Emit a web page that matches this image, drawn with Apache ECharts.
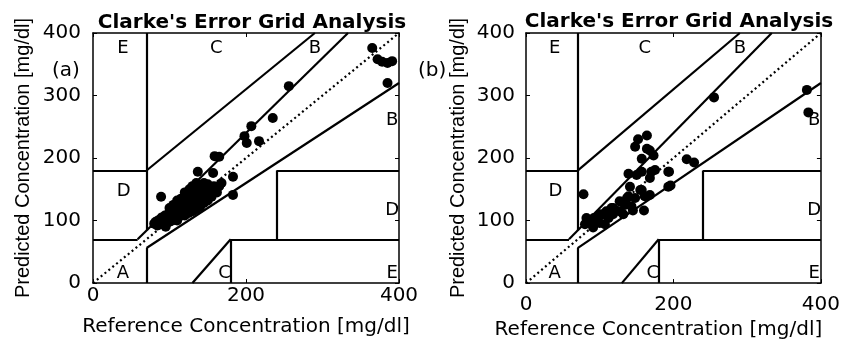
<!DOCTYPE html>
<html>
<head>
<meta charset="utf-8">
<script src="https://cdn.jsdelivr.net/npm/echarts@6/dist/echarts.min.js"></script>
<style>
html,body{margin:0;padding:0;background:#fff;}
#chart{width:843px;height:345px;}
</style>
</head>
<body>
<div id="chart"></div>
<script>
// reference vs predicted, panel (a)
var pointsA=[
    [80,95],[82,98],[84,92],[85,100],[86,96],[88,102],[88,94],[90,99],[90,105],[92,97],
    [93,103],[94,108],[95,100],[96,95],[97,106],[98,110],[99,102],[100,98],[100,112],[102,105],
    [103,115],[104,100],[105,109],[106,118],[107,104],[108,112],[109,120],[110,107],[111,116],[112,110],
    [113,124],[114,113],[115,119],[116,108],[117,127],[118,115],[119,121],[120,112],[121,130],[122,118],
    [123,125],[124,115],[125,133],[126,121],[127,128],[128,118],[129,136],[130,124],[131,131],[132,122],
    [133,140],[134,128],[135,135],[136,125],[137,143],[138,131],[139,138],[140,128],[141,147],[142,134],
    [143,141],[145,137],[146,150],[148,140],[150,145],[152,152],[154,142],[156,148],[158,155],[160,150],
    [162,145],[165,155],[95,90],[110,100],[120,108],[130,115],[140,122],[150,132],
    [100,120],[105,125],[110,132],[115,135],[120,145],[126,150],[130,155],[135,160],[140,155],[145,160],
    [125,112],[135,118],[145,128],[155,138],[118,128],[128,140],[138,148],[150,158],
    [89,138],[137,178],[157,176],[159,203],[165,202],[168,160],[183,170],[183,141],[198,235],[201,224],
    [207,251],[217,227],[235,264],[256,315],[365,376],[372,358],[378,354],[385,352],[391,355],[385,320]
];
// panel (b)
var pointsB=[
    [255,297],[381,309],[383,273],[218,198],[228,193],[194,178],[196,156],[78,142],[160,116],
    [164,236],[152,230],[148,218],[164,215],[168,212],[157,199],[173,204],[170,178],[175,181],[157,178],
    [139,175],[168,168],[150,173],[141,154],[155,149],[157,149],[161,139],[168,141],[148,136],[139,139],
    [137,136],[143,123],[134,125],[145,116],[127,131],[118,120],[116,120],[109,115],[105,110],[100,110],
    [92,104],[82,104],[82,96],[80,94],[94,99],[100,96],[91,89],[107,94],[114,110],[118,110],[127,115],
    [132,110],[193,178],[193,154],[88,100],[96,104],[112,104],[122,116]
];
// Clarke grid zone boundaries
var zoneLines=[
    [[0,70],[175/3,70]],
    [[175/3,70],[400/1.2,400]],
    [[70,84],[70,400]],
    [[0,180],[70,180]],
    [[70,180],[290,400]],
    [[70,0],[70,56]],
    [[70,56],[400,320]],
    [[180,0],[180,70]],
    [[180,70],[400,70]],
    [[240,70],[240,180]],
    [[240,180],[400,180]],
    [[130,0],[180,70]]
];
var zoneLetters=[
    ['E',39,376],['C',161,376],['B',290,376],['B',391,260],
    ['D',40,147],['D',391,116],['A',39,16],['C',172,16],['E',391,16]
];

var font='DejaVu Sans';
var vfont='Liberation Sans';
var black='#000';

var grids=[
    {left:93,top:33,width:306,height:250},
    {left:526,top:33,width:295,height:253}
];
var xAxes=[],yAxes=[],series=[];
var panels=[pointsA,pointsB];
var xNameGap=[34,31];
var xNamePad=[[0,0,0,0],[0,30,0,0]];
var yNameGap=[60,58];
var xLabelMargin=[3,12];
var yLabelMargin=[12,11];

for(var g=0;g<2;g++){
    // bottom and top
    xAxes.push({
        gridIndex:g,type:'value',min:0,max:400,interval:200,position:'bottom',
        name:'Reference Concentration [mg/dl]',nameLocation:'middle',nameGap:xNameGap[g],
        nameTextStyle:{fontFamily:font,fontSize:20,color:black,padding:xNamePad[g]},
        axisLine:{onZero:false,lineStyle:{color:black,width:1.5}},
        axisTick:{inside:true,length:4,lineStyle:{color:black}},
        axisLabel:{fontFamily:font,fontSize:20,color:black,margin:xLabelMargin[g]},
        splitLine:{show:false}
    });
    xAxes.push({
        gridIndex:g,type:'value',min:0,max:400,interval:200,position:'top',
        axisLine:{onZero:false,lineStyle:{color:black,width:1.5}},
        axisTick:{inside:true,length:4,lineStyle:{color:black}},
        axisLabel:{show:false},splitLine:{show:false}
    });
    yAxes.push({
        gridIndex:g,type:'value',min:0,max:400,interval:100,position:'left',
        name:'Predicted Concentration [mg/dl]',nameLocation:'middle',nameGap:yNameGap[g],
        nameTextStyle:{fontFamily:vfont,fontSize:20,color:black},
        axisLine:{onZero:false,lineStyle:{color:black,width:1.5}},
        axisTick:{inside:true,length:4,lineStyle:{color:black}},
        axisLabel:{fontFamily:font,fontSize:20,color:black,margin:yLabelMargin[g]},
        splitLine:{show:false}
    });
    yAxes.push({
        gridIndex:g,type:'value',min:0,max:400,interval:100,position:'right',
        axisLine:{onZero:false,lineStyle:{color:black,width:1.5}},
        axisTick:{inside:true,length:4,lineStyle:{color:black}},
        axisLabel:{show:false},splitLine:{show:false}
    });
    var xi=g*2,yi=g*2;
    series.push({
        type:'lines',coordinateSystem:'cartesian2d',xAxisIndex:xi,yAxisIndex:yi,
        polyline:false,silent:true,z:2,
        lineStyle:{color:black,width:2.2,opacity:1},
        data:zoneLines.map(function(s){return {coords:s};})
    });
    series.push({
        type:'line',xAxisIndex:xi,yAxisIndex:yi,symbol:'none',silent:true,z:2,
        lineStyle:{color:black,width:2.2,type:[2,3]},
        data:[[0,0],[400,400]]
    });
    series.push({
        type:'scatter',xAxisIndex:xi,yAxisIndex:yi,symbolSize:10,z:3,
        itemStyle:{color:'#000',opacity:1},
        data:panels[g]
    });
    series.push({
        type:'scatter',xAxisIndex:xi,yAxisIndex:yi,symbolSize:0,z:4,silent:true,
        itemStyle:{opacity:1},
        label:{show:true,position:'inside',formatter:'{b}',fontFamily:font,fontSize:18,color:'#000',opacity:1},
        data:zoneLetters.map(function(z){return {name:z[0],value:[z[1],z[2]]};})
    });
}

var myChart=echarts.init(document.getElementById('chart'));
myChart.setOption({
    animation:false,
    backgroundColor:'#fff',
    title:[
        {text:"Clarke's Error Grid Analysis",left:247,top:8,textAlign:'center',
         textStyle:{fontFamily:font,fontSize:20,fontWeight:'bold',color:black}},
        {text:"Clarke's Error Grid Analysis",left:674,top:7,textAlign:'center',
         textStyle:{fontFamily:font,fontSize:20,fontWeight:'bold',color:black}},
        {text:'(a)',left:47,top:56,textStyle:{fontFamily:font,fontSize:20,fontWeight:'normal',color:black}},
        {text:'(b)',left:413,top:56,textStyle:{fontFamily:font,fontSize:20,fontWeight:'normal',color:black}}
    ],
    grid:grids,
    xAxis:xAxes,
    yAxis:yAxes,
    series:series
});
</script>
</body>
</html>
